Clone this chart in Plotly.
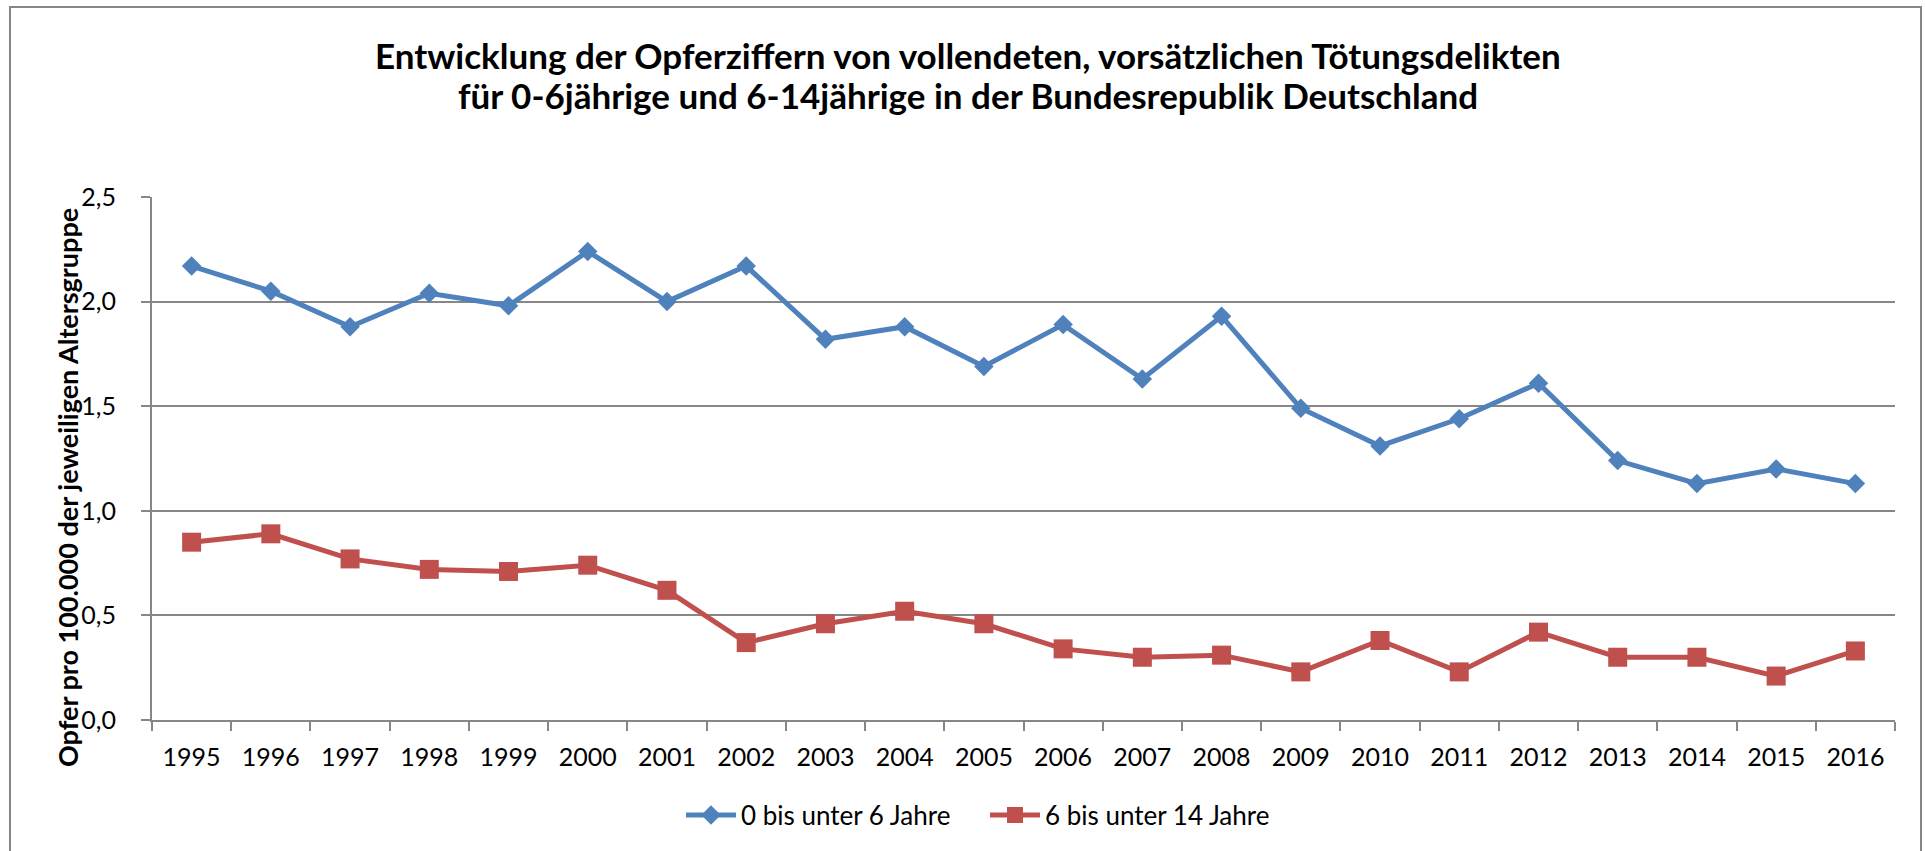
import plotly.graph_objects as go

# -----------------------------
# Daten
# -----------------------------
jahre = [str(j) for j in range(1995, 2017)]

opfer_0_6 = [2.17, 2.05, 1.88, 2.04, 1.98, 2.24, 2.00, 2.17, 1.82, 1.88, 1.69,
             1.89, 1.63, 1.93, 1.49, 1.31, 1.44, 1.61, 1.24, 1.13, 1.20, 1.13]

opfer_6_14 = [0.85, 0.89, 0.77, 0.72, 0.71, 0.74, 0.62, 0.37, 0.46, 0.52, 0.46,
              0.34, 0.30, 0.31, 0.23, 0.38, 0.23, 0.42, 0.30, 0.30, 0.21, 0.33]

name_0_6 = "0 bis unter 6 Jahre"
name_6_14 = "6 bis unter 14 Jahre"

titel_1 = "Entwicklung der Opferziffern von vollendeten, vorsätzlichen Tötungsdelikten"
titel_2 = "für 0-6jährige und 6-14jährige in der Bundesrepublik Deutschland"
y_titel = "Opfer pro 100.000 der jeweiligen Altersgruppe"

BLAU = "#4F81BD"
ROT = "#C0504D"
GRAU = "#878787"
FONT = "Lato, 'Open Sans', sans-serif"

# -----------------------------
# Figur
# -----------------------------
fig = go.Figure()

fig.add_trace(go.Scatter(
    x=jahre, y=opfer_0_6, name=name_0_6, mode="lines+markers",
    line=dict(color=BLAU, width=5),
    marker=dict(symbol="diamond", size=15, color=BLAU),
))
fig.add_trace(go.Scatter(
    x=jahre, y=opfer_6_14, name=name_6_14, mode="lines+markers",
    line=dict(color=ROT, width=5),
    marker=dict(symbol="square", size=19, color=ROT),
))

# Plotbereich in Pixeln: x 152..1895, y 197..720
L, R, T, B = 152, 30, 197, 131
W, H = 1925, 851
pw, ph = W - L - R, H - T - B


def px_x(x):
    return (x - L) / pw


def px_y(y):
    return (H - B - y) / ph


fig.update_layout(
    width=W, height=H,
    margin=dict(l=L, r=R, t=T, b=B, autoexpand=False),
    paper_bgcolor="white", plot_bgcolor="white",
    separators=",.",
    font=dict(family=FONT, size=25, color="black"),
    showlegend=True,
    legend=dict(
        orientation="h", x=px_x(985), y=px_y(815),
        xanchor="center", yanchor="middle",
        font=dict(size=26), itemwidth=50, tracegroupgap=0,
        entrywidth=239,
    ),
    hovermode=False,
)

fig.update_xaxes(
    type="category", range=[-0.5, len(jahre) - 0.5], showgrid=False,
    showline=True, linecolor=GRAU, linewidth=2,
    ticks="outside", tickson="boundaries", ticklen=9, tickcolor=GRAU, tickwidth=2,
    ticklabelstandoff=14,
    tickfont=dict(size=25),
)
fig.update_yaxes(
    range=[0, 2.5], dtick=0.5, tickformat=".1f",
    showgrid=True, gridcolor=GRAU, gridwidth=2, zeroline=False,
    showline=True, linecolor=GRAU, linewidth=2,
    ticks="outside", ticklen=9, tickcolor=GRAU, tickwidth=2,
    ticklabelstandoff=20,
    tickfont=dict(size=25),
)

# Titel (zwei Zeilen)
for text, yy in [(titel_1, 55), (titel_2, 95)]:
    fig.add_annotation(
        text="<b>" + text + "</b>",
        xref="paper", yref="paper", x=px_x(968), y=px_y(yy),
        xanchor="center", yanchor="middle", showarrow=False,
        font=dict(size=35, family=FONT),
    )

# Achsentitel y
fig.add_annotation(
    text="<b>" + y_titel + "</b>",
    xref="paper", yref="paper", x=px_x(68), y=px_y(488),
    xanchor="center", yanchor="middle", showarrow=False, textangle=-90,
    font=dict(size=27, family=FONT),
)

# Rahmen um das Diagramm
fig.add_shape(
    type="rect", xref="paper", yref="paper",
    x0=px_x(10), x1=px_x(1921), y0=px_y(870), y1=px_y(7),
    line=dict(color=GRAU, width=2), layer="below",
)

# Seitenrand des Browsers entfernen, damit die Pixelpositionen stimmen
fig.write_html("out.html", config={"displayModeBar": False},
               post_script="document.body.style.margin='0';")
